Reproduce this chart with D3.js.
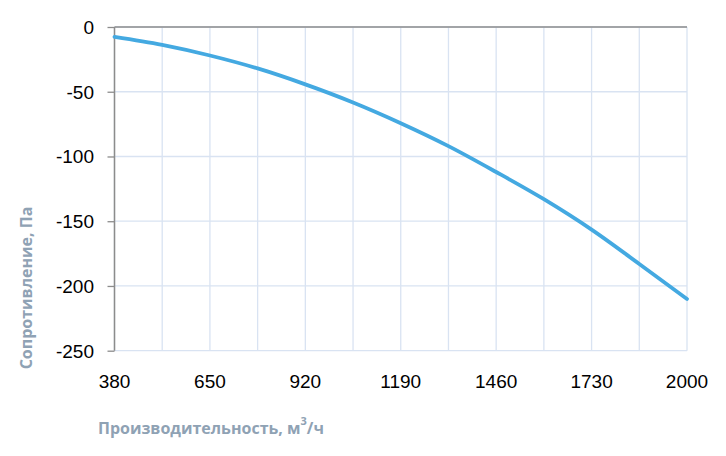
<!DOCTYPE html>
<html>
<head>
<meta charset="utf-8">
<script src="https://cdn.jsdelivr.net/npm/d3@7"></script>
<style>
  body { margin: 0; background: #fff; }
  .tick-label { font-family: "Liberation Sans", Arial, sans-serif; font-size: 19px; fill: #000; }
  .axis-title { font-family: "Open Sans", "Noto Sans", sans-serif; font-weight: bold; fill: #8FA2B4; }
</style>
</head>
<body>
<svg id="chart" width="726" height="456"></svg>
<script>
// flow, m3/h
var flow = [380, 515, 650, 785, 920, 1055, 1190, 1325, 1460, 1595, 1730, 1865, 2000];
// resistance, Pa
var resistance = [-7.6, -13.8, -22, -32, -44.3, -58.3, -74.3, -92, -112, -133, -156.5, -183, -210];

var xTicks = [380, 650, 920, 1190, 1460, 1730, 2000];
var xGrid = [380, 515, 650, 785, 920, 1055, 1190, 1325, 1460, 1595, 1730, 1865, 2000];
var yTicks = [0, -50, -100, -150, -200, -250];

var svg = d3.select("#chart");
var MARGINS = { left: 114.5, right: 687, top: 27, bottom: 350.7 };

var xScale = d3.scaleLinear().domain([380, 2000]).range([MARGINS.left, MARGINS.right]);
var yScale = d3.scaleLinear().domain([-250, 0]).range([MARGINS.bottom, MARGINS.top]);

var gridColor = "#D9E3F2";
var axisColor = "#8C8C8C";

// vertical grid
svg.append("g").selectAll("line").data(xGrid).enter().append("line")
  .attr("x1", function(d){ return xScale(d); })
  .attr("x2", function(d){ return xScale(d); })
  .attr("y1", MARGINS.top)
  .attr("y2", MARGINS.bottom)
  .attr("stroke", gridColor)
  .attr("stroke-width", 1.3);

// horizontal grid
svg.append("g").selectAll("line").data(yTicks).enter().append("line")
  .attr("x1", MARGINS.left)
  .attr("x2", MARGINS.right)
  .attr("y1", function(d){ return yScale(d); })
  .attr("y2", function(d){ return yScale(d); })
  .attr("stroke", gridColor)
  .attr("stroke-width", 1.3);

// y axis
var yAxis = d3.axisLeft(yScale).tickValues(yTicks).tickSize(7).tickFormat("");
var yg = svg.append("g")
  .attr("transform", "translate(" + MARGINS.left + ",0)")
  .call(yAxis);
yg.select(".domain").remove();
yg.selectAll(".tick line").attr("stroke", axisColor).attr("stroke-width", 1.3);
svg.append("line")
  .attr("x1", MARGINS.left).attr("x2", MARGINS.left)
  .attr("y1", MARGINS.top).attr("y2", MARGINS.bottom)
  .attr("stroke", axisColor).attr("stroke-width", 1.5);

// x axis sits at y = 0 (top)
svg.append("line")
  .attr("x1", MARGINS.left).attr("x2", MARGINS.right)
  .attr("y1", yScale(0)).attr("y2", yScale(0))
  .attr("stroke", axisColor).attr("stroke-width", 1.5);

// y labels
svg.append("g").selectAll("text").data(yTicks).enter().append("text")
  .attr("class", "tick-label")
  .attr("text-anchor", "end")
  .attr("x", 94)
  .attr("y", function(d){ return yScale(d) + 7; })
  .text(function(d){ return d; });

// x labels (low position)
svg.append("g").selectAll("text").data(xTicks).enter().append("text")
  .attr("class", "tick-label")
  .attr("text-anchor", "middle")
  .attr("x", function(d){ return xScale(d); })
  .attr("y", 388)
  .text(function(d){ return d; });

// curve
var lineGen = d3.line()
  .x(function(d, i){ return xScale(flow[i]); })
  .y(function(d, i){ return yScale(resistance[i]); })
  .curve(d3.curveMonotoneX);

svg.append("path")
  .attr("d", lineGen(flow))
  .attr("fill", "none")
  .attr("stroke", "#44A9E1")
  .attr("stroke-width", 3.8)
  .attr("stroke-linecap", "round");

// titles
svg.append("text")
  .attr("class", "axis-title")
  .attr("font-size", "16px")
  .attr("text-anchor", "middle")
  .attr("transform", "translate(32,288) rotate(-90)")
  .text("Сопротивление, Па");

var xt = svg.append("text")
  .attr("class", "axis-title")
  .attr("font-size", "16px")
  .attr("x", 98)
  .attr("y", 434);
xt.append("tspan").text("Производительность, м");
xt.append("tspan").attr("font-size", "11px").attr("dy", -9).text("3");
xt.append("tspan").attr("dy", 9).text("/ч");
</script>
</body>
</html>
